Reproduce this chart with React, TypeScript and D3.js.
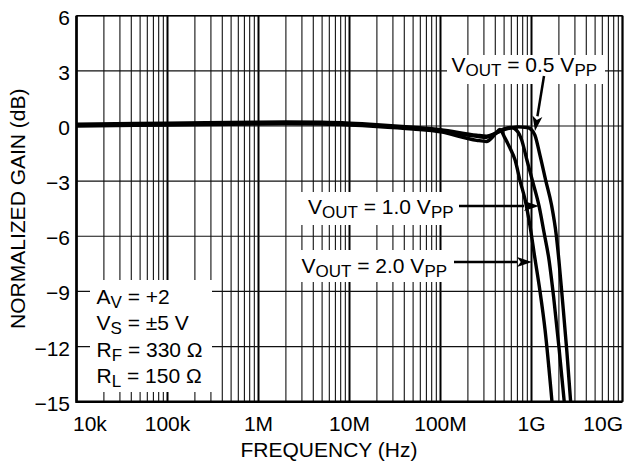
import React from 'react';
import * as d3 from 'd3';

const W = 625;
const H = 463;
const PL = 76.5, PR = 622.5, PT = 15.7, PB = 401.7;

const xTickValues = [1e4, 1e5, 1e6, 1e7, 1e8, 1e9, 1e10];
const xTickLabels = ['10k', '100k', '1M', '10M', '100M', '1G', '10G'];
const yTickValues = [6, 3, 0, -3, -6, -9, -12, -15];
const yTickLabels = ['6', '3', '0', '\u22123', '\u22126', '\u22129', '\u221212', '\u221215'];

// VOUT = 2.0 Vpp
const freq20 = [1e4, 1e5, 1e6, 2e6, 5e6, 1e7, 2e7, 5e7, 1e8, 2.5e8, 3.2e8, 4.0e8, 4.5e8, 5.1e8, 5.8e8, 6.6e8, 7.5e8, 8.5e8, 9.6e8, 1.09e9, 1.24e9, 1.41e9, 1.7e9];
const gain20 = [0.0, 0.05, 0.11, 0.12, 0.1, 0.05, -0.03, -0.17, -0.32, -0.78, -0.84, -0.44, -0.19, -0.65, -1.2, -1.85, -3.0, -4.0, -5.4, -7.2, -9.0, -11.1, -15.3];

// VOUT = 1.0 Vpp
const freq10 = [1e4, 1e5, 1e6, 2e6, 5e6, 1e7, 2e7, 5e7, 1e8, 2.5e8, 3.2e8, 4.0e8, 5.0e8, 6.0e8, 7.1e8, 7.8e8, 8.9e8, 1.04e9, 1.21e9, 1.37e9, 1.56e9, 1.75e9, 2.0e9, 2.3e9];
const gain10 = [0.05, 0.1, 0.16, 0.17, 0.15, 0.1, 0.02, -0.12, -0.26, -0.56, -0.62, -0.4, -0.15, -0.08, -0.33, -0.76, -1.85, -3.1, -4.35, -5.77, -7.3, -9.3, -12.0, -15.1];

// VOUT = 0.5 Vpp
const freq05 = [1e4, 1e5, 1e6, 2e6, 5e6, 1e7, 2e7, 5e7, 1e8, 2.5e8, 3.2e8, 4.0e8, 5.0e8, 6.0e8, 7.0e8, 8.9e8, 1.0e9, 1.09e9, 1.24e9, 1.43e9, 1.66e9, 1.87e9, 2.0e9, 2.2e9, 2.45e9, 2.72e9];
const gain05 = [0.1, 0.15, 0.21, 0.22, 0.2, 0.15, 0.07, -0.07, -0.2, -0.5, -0.55, -0.4, -0.2, -0.1, -0.05, -0.08, -0.2, -0.5, -1.6, -2.94, -4.3, -5.93, -7.3, -9.6, -12.3, -15.3];

const x = d3.scaleLog().domain([1e4, 1e10]).range([PL, PR]);
const y = d3.scaleLinear().domain([-15, 6]).range([PB, PT]);

const FONT = '"Liberation Sans", Arial, Helvetica, sans-serif';
const FS = 21;
const SFS = 17;

function series(f: number[], g: number[]) {
  return f.map((fr, i) => [fr, g[i]] as [number, number]);
}

const line = d3
  .line<[number, number]>()
  .x((d) => x(d[0]))
  .y((d) => y(d[1]))
  .curve(d3.curveMonotoneX);

const minorFreqs: number[] = [];
for (let e = 4; e < 10; e++) {
  for (let m = 2; m <= 9; m++) minorFreqs.push(m * Math.pow(10, e));
}

function Arrow({ x1, y1, x2, y2 }: { x1: number; y1: number; x2: number; y2: number }) {
  const ang = Math.atan2(y2 - y1, x2 - x1);
  const len = 15, half = 5;
  const bx = x2 - len * Math.cos(ang), by = y2 - len * Math.sin(ang);
  const px = -Math.sin(ang) * half, py = Math.cos(ang) * half;
  return (
    <g>
      <line x1={x1} y1={y1} x2={bx} y2={by} stroke="#000" strokeWidth={2.5} />
      <path d={`M${x2},${y2}L${bx + px},${by + py}L${bx + len * 0.25 * Math.cos(ang)},${by + len * 0.25 * Math.sin(ang)}L${bx - px},${by - py}Z`} fill="#000" />
    </g>
  );
}

function VLabel({ tx, ty, val }: { tx: number; ty: number; val: string }) {
  return (
    <text x={tx} y={ty} fontSize={FS} fontFamily={FONT} fill="#000">
      V<tspan fontSize={SFS} dy={4}>OUT</tspan>
      <tspan dy={-4}>{` = ${val} V`}</tspan>
      <tspan fontSize={SFS} dy={4}>PP</tspan>
    </text>
  );
}

export default function App() {
  const s20 = series(freq20, gain20);
  const s10 = series(freq10, gain10);
  const s05 = series(freq05, gain05);
  const legend = [
    { a: 'A', s: 'V', r: ' = +2' },
    { a: 'V', s: 'S', r: ' = \u00b15 V' },
    { a: 'R', s: 'F', r: ' = 330 \u03a9' },
    { a: 'R', s: 'L', r: ' = 150 \u03a9' },
  ];
  return (
    <svg width={W} height={H} style={{ position: 'absolute', left: 0, top: 0, background: '#fff' }}>
      <defs>
        <clipPath id="plot">
          <rect x={PL} y={PT} width={PR - PL} height={PB - PT} />
        </clipPath>
      </defs>
      <rect x={0} y={0} width={W} height={H} fill="#fff" />
      {/* grid */}
      {minorFreqs.map((f, i) => (
        <line key={'m' + i} x1={x(f)} x2={x(f)} y1={PT} y2={PB} stroke="#111" strokeWidth={1.1} />
      ))}
      {xTickValues.map((f, i) => (
        <line key={'M' + i} x1={x(f)} x2={x(f)} y1={PT} y2={PB} stroke="#000" strokeWidth={2} />
      ))}
      {yTickValues.map((v, i) => (
        <line key={'h' + i} x1={PL} x2={PR} y1={y(v)} y2={y(v)} stroke="#111" strokeWidth={1.2} />
      ))}
      {/* frame */}
      <line x1={PL} x2={PR} y1={PT} y2={PT} stroke="#000" strokeWidth={1.5} />
      <line x1={PR} x2={PR} y1={PT} y2={PB} stroke="#000" strokeWidth={1.5} />
      <line x1={PL} x2={PL} y1={PT} y2={PB + 1.2} stroke="#000" strokeWidth={2.5} />
      <line x1={PL} x2={PR} y1={PB} y2={PB} stroke="#000" strokeWidth={2.5} />
      {/* white label boxes */}
      <rect x={90} y={280} width={122} height={112} fill="#fff" />
      <rect x={447} y={55} width={158} height={29} fill="#fff" />
      <rect x={299} y={192} width={161} height={33} fill="#fff" />
      <rect x={293} y={250} width={162} height={32} fill="#fff" />
      {/* curves */}
      <g clipPath="url(#plot)" fill="none" stroke="#000" strokeWidth={3.4} strokeLinejoin="round">
        <path d={line(s05) || ''} />
        <path d={line(s10) || ''} />
        <path d={line(s20) || ''} />
      </g>
      {/* annotations */}
      <VLabel tx={451.5} ty={72} val="0.5" />
      <Arrow x1={544} y1={76} x2={535} y2={131} />
      <VLabel tx={308} ty={214} val="1.0" />
      <Arrow x1={459} y1={206} x2={539} y2={206} />
      <VLabel tx={301.5} ty={273} val="2.0" />
      <Arrow x1={454} y1={262} x2={532} y2={262} />
      {legend.map((l, i) => (
        <text key={'l' + i} x={96.5} y={304 + i * 26.3} fontSize={FS} fontFamily={FONT} fill="#000">
          {l.a}
          <tspan fontSize={SFS} dy={4}>{l.s}</tspan>
          <tspan dy={-4}>{l.r}</tspan>
        </text>
      ))}
      {/* axis tick labels */}
      {yTickValues.map((v, i) => (
        <text key={'yl' + i} x={70} y={y(v) + 9} textAnchor="end" fontSize={FS} fontFamily={FONT} fill="#000">
          {yTickLabels[i]}
        </text>
      ))}
      {xTickValues.map((f, i) => {
        const anchor = i === 0 ? 'start' : i === xTickValues.length - 1 ? 'end' : 'middle';
        const xx = i === 0 ? x(f) - 3.5 : i === xTickValues.length - 1 ? x(f) + 0.5 : x(f);
        return (
          <text key={'xl' + i} x={xx} y={431} textAnchor={anchor} fontSize={FS} fontFamily={FONT} fill="#000">
            {xTickLabels[i]}
          </text>
        );
      })}
      <text x={329} y={457} textAnchor="middle" fontSize={FS} fontFamily={FONT} fill="#000">
        FREQUENCY (Hz)
      </text>
      <text
        transform={`translate(25,${(PT + PB) / 2}) rotate(-90)`}
        textAnchor="middle"
        fontSize={FS}
        fontFamily={FONT}
        fill="#000"
      >
        NORMALIZED GAIN (dB)
      </text>
    </svg>
  );
}
